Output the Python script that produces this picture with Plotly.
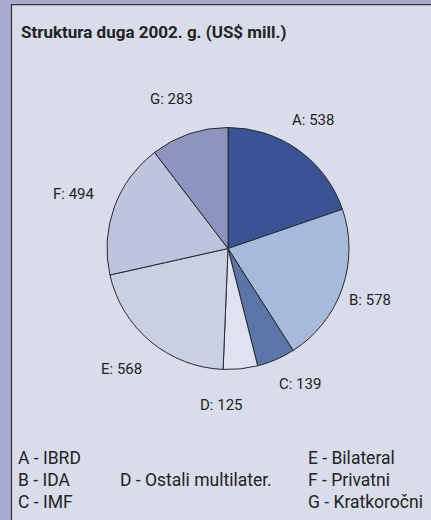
import math
import plotly.graph_objects as go

# ---- data ----
codes = ["A", "B", "C", "D", "E", "F", "G"]
names = ["IBRD", "IDA", "IMF", "Ostali multilater.", "Bilateral", "Privatni", "Kratkoročni"]
values = [538, 578, 139, 125, 568, 494, 283]
colors = ["#3a5394", "#a6badb", "#5a75a8", "#dfe2f0", "#cad0e4", "#bec3de", "#8e94c0"]
title_text = "Struktura duga 2002. g. (US$ mill.)"

# ---- layout constants ----
W, H = 431, 520
CX, CY, R = 228, 248.5, 121       # pie centre / radius in pixels (from top-left)
LCX, LCY, LABEL_R = 222, 248, 157  # centre / radius of the label ring in pixels
MIN_SEP = 30                       # minimum angular separation of labels (deg)
BG = "#d9dcea"
BAND = "#a6aad0"
TXT = "#232323"
FONT = "Roboto, Liberation Sans, sans-serif"

fig = go.Figure()
fig.add_trace(go.Pie(
    labels=codes,
    values=values,
    sort=False,
    direction="clockwise",
    rotation=0,
    marker=dict(colors=colors, line=dict(color="#2a2a2a", width=1)),
    textinfo="none",
    hoverinfo="label+value",
    showlegend=False,
    domain=dict(x=[(CX - R) / W, (CX + R) / W],
                y=[(H - CY - R) / H, (H - CY + R) / H]),
))

# mid-angles of slices (degrees clockwise from 12 o'clock)
total = sum(values)
angles = []
cum = 0
for v in values:
    angles.append((cum + v / 2) / total * 360)
    cum += v
# simple de-overlap: spread adjacent labels that are too close
for _ in range(10):
    for i in range(len(angles) - 1):
        sep = angles[i + 1] - angles[i]
        if sep < MIN_SEP:
            push = (MIN_SEP - sep) / 2
            angles[i] -= push
            angles[i + 1] += push

annotations = []
for c, v, a in zip(codes, values, angles):
    t = math.radians(a)
    px = LCX + LABEL_R * math.sin(t)
    py = LCY - LABEL_R * math.cos(t)
    annotations.append(dict(
        x=px / W, y=1 - py / H, xref="paper", yref="paper",
        text=f"{c}: {v}", showarrow=False, xanchor="center", yanchor="middle",
        font=dict(family=FONT, size=15, color=TXT)))

# title
annotations.append(dict(
    x=19 / W, y=1 - 32 / H, xref="paper", yref="paper",
    text=f"<b>{title_text}</b>", showarrow=False, xanchor="left", yanchor="middle",
    font=dict(family=FONT, size=17, color=TXT)))

# key at the bottom
col_x = [16, 118, 306]
row_y = [458, 480, 502]
placement = [(0, 0), (0, 1), (0, 2), (1, 1), (2, 0), (2, 1), (2, 2)]
for (ci, ri), c, n in zip(placement, codes, names):
    annotations.append(dict(
        x=col_x[ci] / W, y=1 - row_y[ri] / H, xref="paper", yref="paper",
        text=f"{c} - {n}", showarrow=False, xanchor="left", yanchor="middle",
        font=dict(family=FONT, size=17.5, color=TXT)))

shapes = [
    dict(type="rect", xref="paper", yref="paper", x0=0, x1=11 / W, y0=0, y1=1,
         fillcolor=BAND, line=dict(width=0), layer="below"),
    dict(type="rect", xref="paper", yref="paper", x0=0, x1=1, y0=1 - 4 / H, y1=1,
         fillcolor=BAND, line=dict(width=0), layer="below"),
    dict(type="line", xref="paper", yref="paper", x0=11.5 / W, x1=11.5 / W,
         y0=0, y1=1 - 4 / H, line=dict(color="#333333", width=1.2)),
    dict(type="line", xref="paper", yref="paper", x0=11 / W, x1=1,
         y0=1 - 4.6 / H, y1=1 - 4.6 / H, line=dict(color="#333333", width=1.2)),
]

fig.update_layout(
    width=W, height=H,
    margin=dict(l=0, r=0, t=0, b=0),
    paper_bgcolor=BG, plot_bgcolor=BG,
    annotations=annotations,
    shapes=shapes,
    font=dict(family=FONT, color=TXT),
)

fig.write_html("out.html", config={"displayModeBar": False})
